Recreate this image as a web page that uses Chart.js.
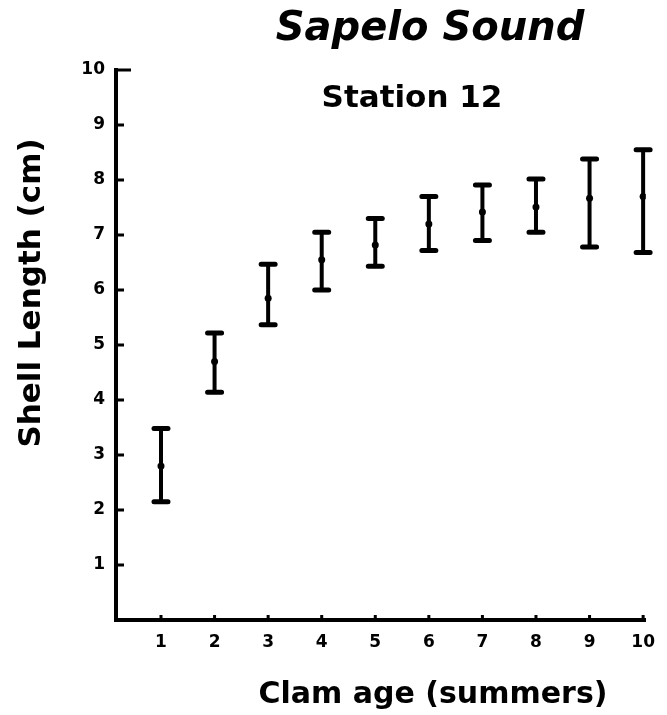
<!DOCTYPE html>
<html>
<head>
<meta charset="utf-8">
<title>Sapelo Sound - Station 12</title>
<script src="https://cdn.jsdelivr.net/npm/chart.js@4/dist/chart.umd.min.js"></script>
<style>
  html, body { margin:0; padding:0; background:#fff; }
  canvas { display:block; }
</style>
</head>
<body>
<canvas id="clamChart" width="667" height="715"></canvas>
<script>
/* Shell length (cm) by clam age, Sapelo Sound station 12.
   Mean with range bars. */

const ages   = [1, 2, 3, 4, 5, 6, 7, 8, 9, 10];
const means  = [2.8, 4.7, 5.85, 6.55, 6.82, 7.2, 7.42, 7.51, 7.67, 7.7];
const lows   = [2.15, 4.14, 5.37, 6.0, 6.43, 6.72, 6.9, 7.05, 6.78, 6.68];
const highs  = [3.48, 5.22, 6.47, 7.05, 7.3, 7.7, 7.91, 8.02, 8.38, 8.55];

const xTicks = [1, 2, 3, 4, 5, 6, 7, 8, 9, 10];
const yTicks = [1, 2, 3, 4, 5, 6, 7, 8, 9, 10];

const titleText    = 'Sapelo Sound';
const subtitleText = 'Station 12';
const xTitle       = 'Clam age (summers)';
const yTitle       = 'Shell Length (cm)';

const FONT = "'DejaVu Sans', 'Liberation Sans', sans-serif";

// vertical range bars with caps
const errorBars = {
  id:'errorBars',
  afterDatasetsDraw(chart){
    const {ctx, scales:{x, y}} = chart;
    ctx.save();
    ctx.strokeStyle = '#000';
    ctx.lineCap = 'round';
    ages.forEach((a, i) => {
      const px  = x.getPixelForValue(a);
      const top = y.getPixelForValue(highs[i]);
      const bot = y.getPixelForValue(lows[i]);
      ctx.lineWidth = 4;
      ctx.beginPath(); ctx.moveTo(px, top); ctx.lineTo(px, bot); ctx.stroke();
      ctx.lineWidth = 5;
      ctx.beginPath();
      ctx.moveTo(px - 7, top); ctx.lineTo(px + 7, top);
      ctx.moveTo(px - 7, bot); ctx.lineTo(px + 7, bot);
      ctx.stroke();
    });
    ctx.restore();
  }
};

// tick marks point into the plot
const innerTicks = {
  id:'innerTicks',
  afterDraw(chart){
    const {ctx, chartArea:a, scales:{x, y}} = chart;
    ctx.save();
    ctx.strokeStyle = '#000';
    ctx.lineWidth = 3;
    ctx.beginPath();
    y.ticks.forEach(t => {
      const py = y.getPixelForValue(t.value);
      const len = t.value === 10 ? 15 : 8;
      ctx.moveTo(a.left, py); ctx.lineTo(a.left + len, py);
    });
    x.ticks.forEach(t => {
      const px = x.getPixelForValue(t.value);
      ctx.moveTo(px, a.bottom); ctx.lineTo(px, a.bottom - 5);
    });
    ctx.stroke();
    ctx.restore();
  }
};

// titles, placed as in the printed figure
const chartText = {
  id:'chartText',
  afterDraw(chart){
    const ctx = chart.ctx;
    ctx.save();
    ctx.fillStyle = '#000';
    ctx.textAlign = 'center';
    ctx.textBaseline = 'alphabetic';
    ctx.font = 'italic bold 40px ' + FONT;
    ctx.fillText(titleText, 430, 40);
    ctx.font = 'bold 31px ' + FONT;
    ctx.fillText(subtitleText, 412, 107);
    ctx.font = 'bold 30px ' + FONT;
    ctx.fillText(xTitle, 433, 703);
    ctx.translate(32, 293);
    ctx.rotate(-Math.PI / 2);
    ctx.textBaseline = 'middle';
    ctx.font = 'bold 31px ' + FONT;
    ctx.fillText(yTitle, 0, 0);
    ctx.restore();
  }
};

const tickFont = { family:FONT, weight:'bold', size:17 };

new Chart(document.getElementById('clamChart'), {
  type:'scatter',
  data:{
    datasets:[{
      data: ages.map((a, i) => ({ x:a, y:means[i] })),
      pointRadius:3.5,
      pointBackgroundColor:'#000',
      pointBorderWidth:0,
      showLine:false
    }]
  },
  options:{
    responsive:false,
    animation:false,
    layout:{ padding:{ top:70, right:9, bottom:0, left:0 } },
    plugins:{ legend:{ display:false }, tooltip:{ enabled:false } },
    scales:{
      x:{
        type:'linear', min:0.16, max:10.05,
        afterBuildTicks: s => { s.ticks = xTicks.map(v => ({ value:v })); },
        afterFit: s => { s.height = 95; },
        grid:{ display:false, drawTicks:false },
        border:{ display:true, width:4, color:'#000' },
        ticks:{ color:'#000', padding:12, font:tickFont, maxRotation:0, autoSkip:false }
      },
      y:{
        type:'linear', min:0, max:10,
        afterBuildTicks: s => { s.ticks = yTicks.map(v => ({ value:v })); },
        afterFit: s => { s.width = 116; },
        grid:{ display:false, drawTicks:false },
        border:{ display:true, width:4, color:'#000' },
        ticks:{ color:'#000', padding:11, font:tickFont, autoSkip:false }
      }
    }
  },
  plugins:[errorBars, innerTicks, chartText]
});
</script>
</body>
</html>
